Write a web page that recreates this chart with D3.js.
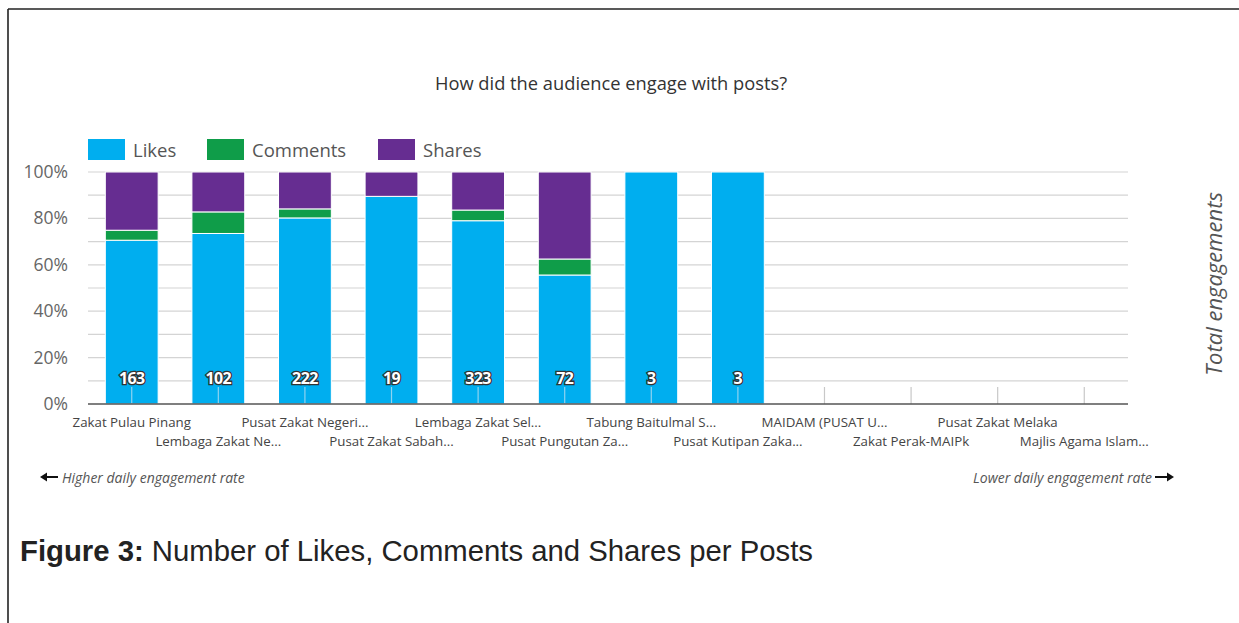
<!DOCTYPE html>
<html lang="en">
<head>
<meta charset="UTF-8">
<title>How did the audience engage with posts?</title>
<script src="https://d3js.org/d3.v7.min.js"></script>
<style>
  body { margin: 0; background: #fff; }
  svg text { font-family: "Open Sans", "DejaVu Sans", sans-serif; }
  .grid line { stroke: #d4d4d4; stroke-width: 1.2; }
  .ylab { font-size: 17.5px; fill: #666; }
  .xlab { font-size: 13.3px; fill: #444; }
  .total { font-size: 16px; font-weight: bold; fill: #fff; stroke: #333; stroke-width: 2.6px; paint-order: stroke; letter-spacing: -0.6px; }
  .caption { font-family: "Liberation Sans", Arial, sans-serif !important; font-size: 29.3px; fill: #222; }
</style>
</head>
<body>
<div id="chart"></div>
<script>
// data (percent of total engagements)
const categories = [
  "Zakat Pulau Pinang", "Lembaga Zakat Ne...", "Pusat Zakat Negeri...", "Pusat Zakat Sabah...",
  "Lembaga Zakat Sel...", "Pusat Pungutan Za...", "Tabung Baitulmal S...", "Pusat Kutipan Zaka...",
  "MAIDAM (PUSAT U...", "Zakat Perak-MAIPk", "Pusat Zakat Melaka", "Majlis Agama Islam..."
];
const likes    = [70.6, 73.5, 80.2, 89.5, 79.0, 55.6, 100, 100, 0, 0, 0, 0];
const comments = [4.3, 9.3, 3.9, 0, 4.6, 6.9, 0, 0, 0, 0, 0, 0];
const shares   = [25.1, 17.2, 15.9, 10.5, 16.4, 37.5, 0, 0, 0, 0, 0, 0];
const totals   = [163, 102, 222, 19, 323, 72, 3, 3, null, null, null, null];
const seriesNames = ["Likes", "Comments", "Shares"];
const colors = ["#00aeef", "#0f9d49", "#662d91"];
const yTicks = [0, 20, 40, 60, 80, 100];

const W = 1239, H = 623;
const svg = d3.select("#chart").append("svg").attr("width", W).attr("height", H);

// frame (top + left only)
svg.append("line").attr("x1", 8).attr("x2", W).attr("y1", 9).attr("y2", 9).attr("stroke", "#222").attr("stroke-width", 1.6);
svg.append("line").attr("x1", 8).attr("x2", 8).attr("y1", 9).attr("y2", H).attr("stroke", "#222").attr("stroke-width", 1.6);

const x = d3.scaleBand().domain(categories).range([88, 1128]).paddingInner(0.39).paddingOuter(0.2);
const y = d3.scaleLinear().domain([0, 100]).range([404, 172]);

// title
svg.append("text").attr("x", 611).attr("y", 90).attr("text-anchor", "middle")
  .style("font-size", "18.3px").style("fill", "#333").text("How did the audience engage with posts?");

// legend
const leg = svg.append("g");
const legX = [88, 207, 378];
seriesNames.forEach((s, i) => {
  leg.append("rect").attr("x", legX[i]).attr("y", 139).attr("width", 37).attr("height", 21).attr("fill", colors[i]);
  leg.append("text").attr("x", legX[i] + 45).attr("y", 157).style("font-size", "18.5px").style("fill", "#555").text(s);
});

// gridlines every 10%
svg.append("g").attr("class", "grid").selectAll("line")
  .data(d3.range(10, 101, 10)).enter().append("line")
  .attr("x1", 88).attr("x2", 1128).attr("y1", d => y(d)).attr("y2", d => y(d));

svg.append("g").selectAll("text").data(yTicks).enter().append("text")
  .attr("class", "ylab").attr("x", 68).attr("y", d => y(d) + 6).attr("text-anchor", "end")
  .text(d => d + "%");

// stacked bars
const table = categories.map((c, i) => ({ cat: c, Likes: likes[i], Comments: comments[i], Shares: shares[i] }));
const stacked = d3.stack().keys(seriesNames)(table);
svg.append("g").selectAll("g").data(stacked).enter().append("g")
  .attr("fill", (d, i) => colors[i])
  .selectAll("rect").data(d => d.filter(p => p[1] - p[0] > 0)).enter().append("rect")
  .attr("x", d => x(d.data.cat))
  .attr("width", x.bandwidth())
  .attr("y", d => y(d[1]))
  .attr("height", d => y(d[0]) - y(d[1]))
  .attr("stroke", "#fff").attr("stroke-width", 1);

// category ticks
svg.append("g").selectAll("line").data(categories).enter().append("line")
  .attr("x1", d => x(d) + x.bandwidth() / 2).attr("x2", d => x(d) + x.bandwidth() / 2)
  .attr("y1", 387).attr("y2", 404)
  .attr("stroke", (d, i) => totals[i] == null ? "#c8c8c8" : "#8fd3f0").attr("stroke-width", 1.2);

// baseline
svg.append("line").attr("x1", 88).attr("x2", 1128).attr("y1", y(0)).attr("y2", y(0))
  .attr("stroke", "#555").attr("stroke-width", 1.6);

// totals
svg.append("g").selectAll("text").data(categories.filter((c, i) => totals[i] != null)).enter().append("text")
  .attr("class", "total").attr("x", d => x(d) + x.bandwidth() / 2).attr("y", 384)
  .attr("text-anchor", "middle").text((d, i) => totals[i]);

// category labels, alternating rows
svg.append("g").selectAll("text").data(categories).enter().append("text")
  .attr("class", "xlab").attr("x", d => x(d) + x.bandwidth() / 2)
  .attr("y", (d, i) => i % 2 === 0 ? 427 : 446).attr("text-anchor", "middle").text(d => d);

// engagement-rate arrows
const arrow = (x1, x2, yy) => {
  const dir = Math.sign(x2 - x1);
  svg.append("line").attr("x1", x1).attr("x2", x2 - dir * 5).attr("y1", yy).attr("y2", yy).attr("stroke", "#111").attr("stroke-width", 2);
  svg.append("path").attr("d", `M${x2},${yy} L${x2 - dir * 7},${yy - 4.5} L${x2 - dir * 7},${yy + 4.5} Z`).attr("fill", "#111");
};
arrow(58, 40, 477);
svg.append("text").attr("x", 62).attr("y", 483).style("font-size", "14px").style("font-style", "italic").style("fill", "#555")
  .text("Higher daily engagement rate");
arrow(1155, 1174, 477);
svg.append("text").attr("x", 1152).attr("y", 483).attr("text-anchor", "end").style("font-size", "14px").style("font-style", "italic").style("fill", "#555")
  .text("Lower daily engagement rate");

// right axis title
svg.append("text").attr("transform", "translate(1222,284) rotate(-90)").attr("text-anchor", "middle")
  .style("font-size", "22px").style("font-style", "italic").style("fill", "#555").text("Total engagements");

// figure caption
const cap = svg.append("text").attr("class", "caption").attr("x", 20).attr("y", 561);
cap.append("tspan").style("font-weight", "bold").text("Figure 3:");
cap.append("tspan").text(" Number of Likes, Comments and Shares per Posts");
</script>
</body>
</html>
